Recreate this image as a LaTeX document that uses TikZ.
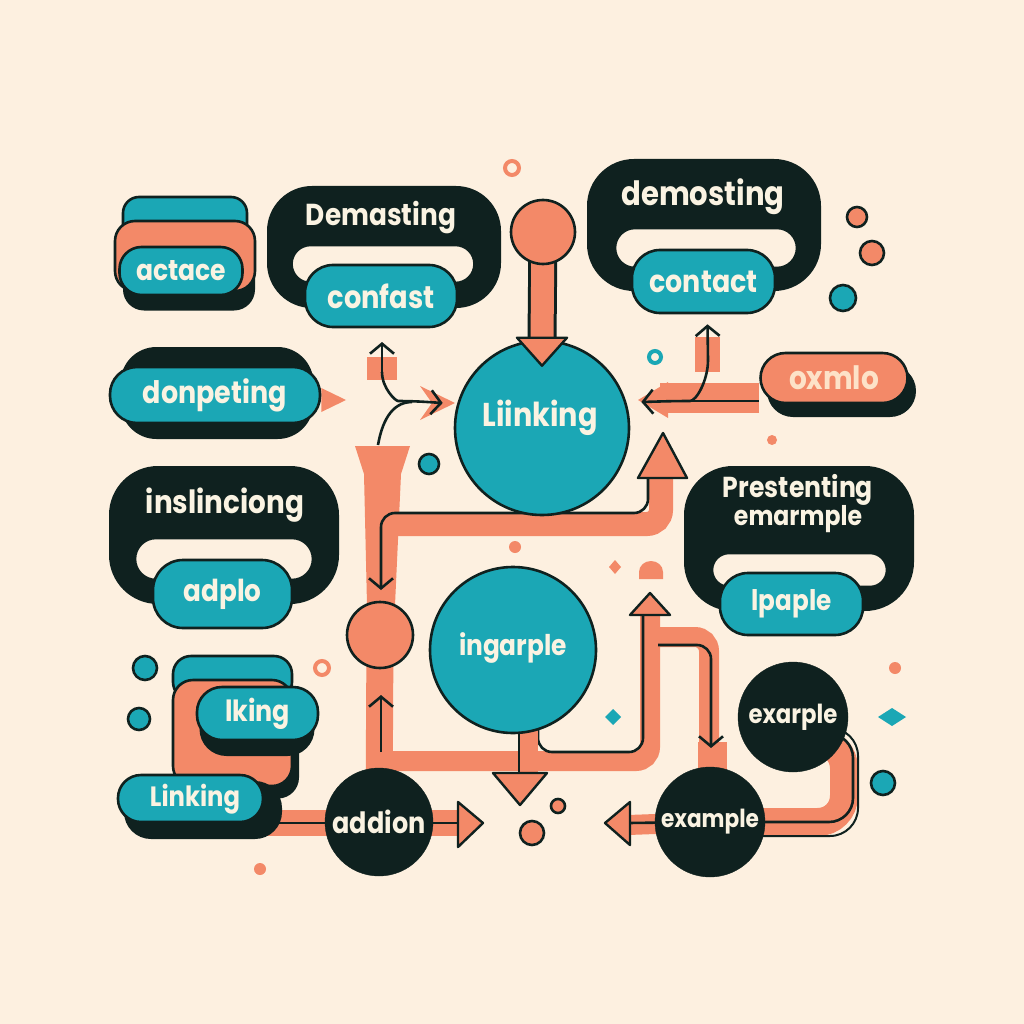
\documentclass[tikz,border=0pt]{standalone}
\usepackage{fontspec}
\setmainfont{Poppins}
\usepackage{graphicx}
\usetikzlibrary{arrows.meta,calc}
\pgfdeclarelayer{bgl}
\pgfdeclarelayer{back}
\pgfsetlayers{bgl,back,main}
\definecolor{bg}{RGB}{253,240,224}
\definecolor{tl}{RGB}{27,167,181}
\definecolor{cr}{RGB}{243,137,104}
\definecolor{dk}{RGB}{15,33,31}
\definecolor{tx}{RGB}{250,243,226}
\definecolor{txo}{RGB}{253,226,200}
\newcommand\tw[2]{\scalebox{1}[1.15]{\resizebox{#1pt}{!}{\bfseries #2}}}
\begin{document}
\begin{tikzpicture}[x=1pt,y=-1pt,
  ol/.style={draw=dk, line width=2.6pt},
  tealbox/.style={ol, fill=tl, rectangle, inner sep=0pt, rounded corners=#1, text=tx},
  darkbox/.style={fill=dk, draw=dk, line width=2pt, rectangle, inner sep=0pt, rounded corners=#1},
  corbox/.style={ol, fill=cr, rectangle, inner sep=0pt, rounded corners=#1},
  slotbox/.style={ol, fill=bg, rectangle, inner sep=0pt, rounded corners=#1},
  tcirc/.style={ol, fill=tl, circle, inner sep=0pt, text=tx},
  ccirc/.style={ol, fill=cr, circle, inner sep=0pt},
  dcirc/.style={fill=dk, draw=dk, circle, inner sep=0pt, text=tx},
  lbl/.style={text=tx, inner sep=0pt},
  band/.style={draw=cr, line width=#1, rounded corners=14pt},
  wire/.style={draw=dk, line width=2.6pt, rounded corners=14pt},
  chev/.style={-{Straight Barb[length=10pt,width=24pt]}},
  tri/.style={fill=cr, draw=dk, line width=2.4pt, line join=round}
]
\begin{pgfonlayer}{bgl}
\fill[bg] (0,0) rectangle (1024,1024);
\end{pgfonlayer}
\useasboundingbox (0,0) rectangle (1024,1024);

% ---------- group actace ----------
\node[tealbox=16pt, minimum width=124pt, minimum height=44pt] (actb) at (185,219) {};
\node[darkbox=20pt, minimum width=130pt, minimum height=75pt] (acts) at (189,272) {};
\node[corbox=20pt, minimum width=140pt, minimum height=70pt] (actc) at (185,256) {};
\node[tealbox=22pt, minimum width=123pt, minimum height=48pt] (actace) at (181,271) {\tw{90}{actace}};

% ---------- group Demasting ----------
\node[darkbox=44pt, minimum width=232pt, minimum height=120pt] (demb) at (384,247) {};
\node[lbl] (demt) at (381,218) {\tw{150}{Demasting}};
\node[slotbox=19pt, minimum width=183pt, minimum height=38pt] (dems) at (383,264) {};
\node[tealbox=28pt, minimum width=152pt, minimum height=62pt] (confast) at (381,296) {\tw{107}{confast}};

% ---------- group demosting ----------
\node[darkbox=46pt, minimum width=232pt, minimum height=130pt] (demob) at (704,225) {};
\node[lbl] (demot) at (703,197) {\tw{163}{demosting}};
\node[slotbox=20pt, minimum width=182pt, minimum height=40pt] (demos) at (706,248) {};
\node[tealbox=28pt, minimum width=143pt, minimum height=63pt] (contact) at (703.5,281.5) {\tw{108}{contact}};

% ---------- group inslinciong ----------
\node[darkbox=48pt, minimum width=228pt, minimum height=136pt] (insb) at (224,535) {};
\node[lbl] (inst) at (225,505) {\tw{158}{inslinciong}};
\node[slotbox=21pt, minimum width=178pt, minimum height=42pt] (inss) at (224,559) {};
\node[tealbox=30pt, minimum width=139pt, minimum height=68pt] (adplo) at (222.5,594) {\tw{78}{adplo}};

% ---------- group Prestenting ----------
\node[darkbox=48pt, minimum width=228pt, minimum height=143pt] (preb) at (799,538.5) {};
\node[lbl] (pret1) at (798,490) {\tw{150}{Prestenting}};
\node[lbl] (pret2) at (798,519) {\tw{128}{emarmple}};
\node[slotbox=17pt, minimum width=175pt, minimum height=34pt] (pres) at (799.5,570) {};
\node[tealbox=28pt, minimum width=143pt, minimum height=62pt] (lpaple) at (791.5,604) {\tw{80}{lpaple}};

% ---------- donpeting ----------
\node[darkbox=35pt, minimum width=191pt, minimum height=90pt] (dons) at (217,393) {};
\node[tealbox=27pt, minimum width=210pt, minimum height=56pt] (donpeting) at (215,395) {\tw{144}{donpeting}};

% ---------- oxmlo ----------
\node[darkbox=25pt, minimum width=147pt, minimum height=50pt] (oxs) at (841.5,391) {};
\node[corbox=25pt, minimum width=147pt, minimum height=50pt, text=txo] (oxmlo) at (834,378) {\tw{90}{oxmlo}};

% ---------- lking group ----------
\node[tealbox=18pt, minimum width=119pt, minimum height=44pt] (lkb) at (232.5,678) {};
\node[darkbox=20pt, minimum width=120pt, minimum height=105pt] (lkcs) at (238,745) {};
\node[corbox=20pt, minimum width=119pt, minimum height=106pt] (lkc) at (232.5,733) {};
\node[darkbox=26pt, minimum width=113pt, minimum height=60pt] (lks) at (257,725) {};
\node[tealbox=25pt, minimum width=121pt, minimum height=53pt] (lking) at (257.5,713.5) {\tw{65}{lking}};

% ---------- Linking (bottom) ----------
\node[darkbox=26pt, minimum width=156pt, minimum height=56pt] (lins) at (203,810) {};
\node[tealbox=23pt, minimum width=145pt, minimum height=47pt] (linkb) at (190.5,798.5) {};
\node[lbl] (linkbt) at (195,799) {\tw{90}{Linking}};

% ---------- circles ----------
\node[ccirc, minimum size=64pt] (topc) at (543,232) {};
\node[tcirc, minimum size=174pt] (link) at (542,428) {};
\node[lbl] (linkt) at (540,418) {\tw{115}{Liinking}};
\node[ccirc, minimum size=66pt] (lcirc) at (380,635) {};
\node[tcirc, minimum size=166pt] (ingarple) at (513,650) {};
\node[lbl] (ingt) at (513,648) {\tw{108}{ingarple}};
\node[dcirc, minimum size=108pt] (addion) at (379,822) {\tw{93}{addion}};
\node[dcirc, minimum size=110pt] (ex1) at (793,717) {\tw{89}{exarple}};
\node[dcirc, minimum size=110pt] (ex2) at (710,822) {\tw{98}{example}};

% arrow head of top stem, over the Liinking circle
\draw[tri] ($(link.north)+(-25,-2)$) -- ($(link.north)+(25,-2)$) -- ($(link.north)+(0,26)$) -- cycle;

% ---------- connectors (behind) ----------
\begin{pgfonlayer}{back}
% top stem
\draw[dk, line width=29pt] (topc.center) -- (link.north);
\draw[cr, line width=23pt] (topc.center) -- (link.north);

% left funnel and bands
\fill[cr] (355,446) -- (410,446) -- (401,474) -- (395,605) -- (367,605) -- (364,474) -- cycle;
\draw[band=24pt] (381,560) -- (381,524) -- (661,524) -- (661,470);
\draw[tri] (638,478) -- (687,478) -- (663,433) -- cycle;
\draw[wire, chev] (648,478) -- (648,513) -- (381,513) -- (381,590);

% lower bands
\draw[band=27pt] (lcirc.center) -- (addion.center);
\draw[band=20pt] (381,761) -- (650,761) -- (650,605);
\draw[band=20pt] (650,637) -- (709,637) -- (709,745);
\fill[cr] (698,742) rectangle (727,772);
\draw[tri] (630,615) -- (670,615) -- (650,593) -- cycle;
\draw[wire, chev] (381,752) -- (381,695);
\draw[wire] (538,728) -- (538,752) -- (643,752) -- (643,616);
\draw[wire, chev] (658,645) -- (711,645) -- (711,748);

% ingarple down arrow
\fill[cr] (518,720) rectangle (538,775);
\draw[tri] (493,773) -- (547,773) -- (520,805) -- cycle;
\draw[wire] (519,728) -- (519,772);

% example loop
\draw[band=28pt, rounded corners=26pt] (ex1.center) -- (793,742) -- (844,742) -- (844,822) -- (ex2.center);
\draw[dk, line width=2.6pt, rounded corners=24pt] (830,734) -- (853,734) -- (853,822) -- (ex2.center);
\draw[dk, line width=2pt, rounded corners=28pt] (835,728) -- (858,728) -- (858,836) -- (ex2.center |- 0,836);
\draw[band=20pt] (ex2.center) -- (628,825);
\draw[wire] (ex2.center) -- (628,823);
\draw[tri] (630,802) -- (630,845) -- (605,823) -- cycle;

% addion band
\draw[band=26pt] (linkb.east |- 0,823) -- (458,823);
\draw[wire] (linkb.east |- 0,823) -- (458,823);
\draw[tri] (458,802) -- (458,847) -- (483,823) -- cycle;

% donpeting pointer
\fill[cr] (donpeting.east |- 0,388) -- (346,400) -- (donpeting.east |- 0,412) -- cycle;

% left arrows into Liinking
\fill[cr] (367,357) rectangle (397,380);
\fill[cr] (420,386) -- (455,403) -- (420,420) -- (432,403) -- cycle;
\draw[wire, chev] (382,372) -- (382,342);
\draw[wire, chev] (382,372) to[out=-90,in=180] (412,401) -- ($(link.west)+(-11,-25)$);
\draw[wire] (378,445) to[out=80,in=180] (412,402);

% right arrows into Liinking
\fill[cr] (695,337) rectangle (720,372);
\draw[band=30pt] (oxmlo.west |- 0,398) -- (660,398);
\fill[cr] (668,382) -- (638,400) -- (668,418) -- cycle;
\draw[wire, chev] (708,360) -- ($(contact.south)+(4,10)$);
\draw[wire, chev] (708,360) to[out=-90,in=0] (676,401) -- ($(link.east)+(11,-26)$);
\draw[wire] (oxmlo.west |- 0,401) -- (676,401);
\end{pgfonlayer}

% ---------- decorations ----------
\draw[cr, line width=4pt, fill=bg] (512,168) circle (7pt);
\draw[tl, line width=4pt, fill=bg] (655,357) circle (6pt);
\draw[cr, line width=4pt, fill=bg] (322,668) circle (7pt);
\draw[ol, fill=cr] (857,217) circle (10pt);
\draw[ol, fill=cr] (872,253) circle (12pt);
\draw[ol, fill=tl] (843,298) circle (13pt);
\draw[ol, fill=tl] (429,464) circle (10pt);
\draw[ol, fill=tl] (145,668) circle (12pt);
\draw[ol, fill=tl] (139,719) circle (11pt);
\draw[ol, fill=tl] (883,783) circle (12pt);
\draw[ol, fill=cr] (558,806) circle (7pt);
\draw[ol, fill=cr] (532,833) circle (12pt);
\fill[cr] (515,547) circle (6pt);
\fill[cr] (772,440) circle (5pt);
\fill[cr] (895,668) circle (6pt);
\fill[cr] (260,869) circle (6pt);
\fill[cr] (615,560) -- (621,567) -- (615,574) -- (609,567) -- cycle;
\fill[cr] (639,579) -- (639,572) to[out=90,in=180] (651,561) to[out=0,in=90] (663,572) -- (663,579) -- cycle;
\fill[tl] (613,709) -- (621,717) -- (613,725) -- (605,717) -- cycle;
\fill[tl] (892,708) -- (906,717) -- (892,726) -- (878,717) -- cycle;
\end{tikzpicture}
\end{document}
